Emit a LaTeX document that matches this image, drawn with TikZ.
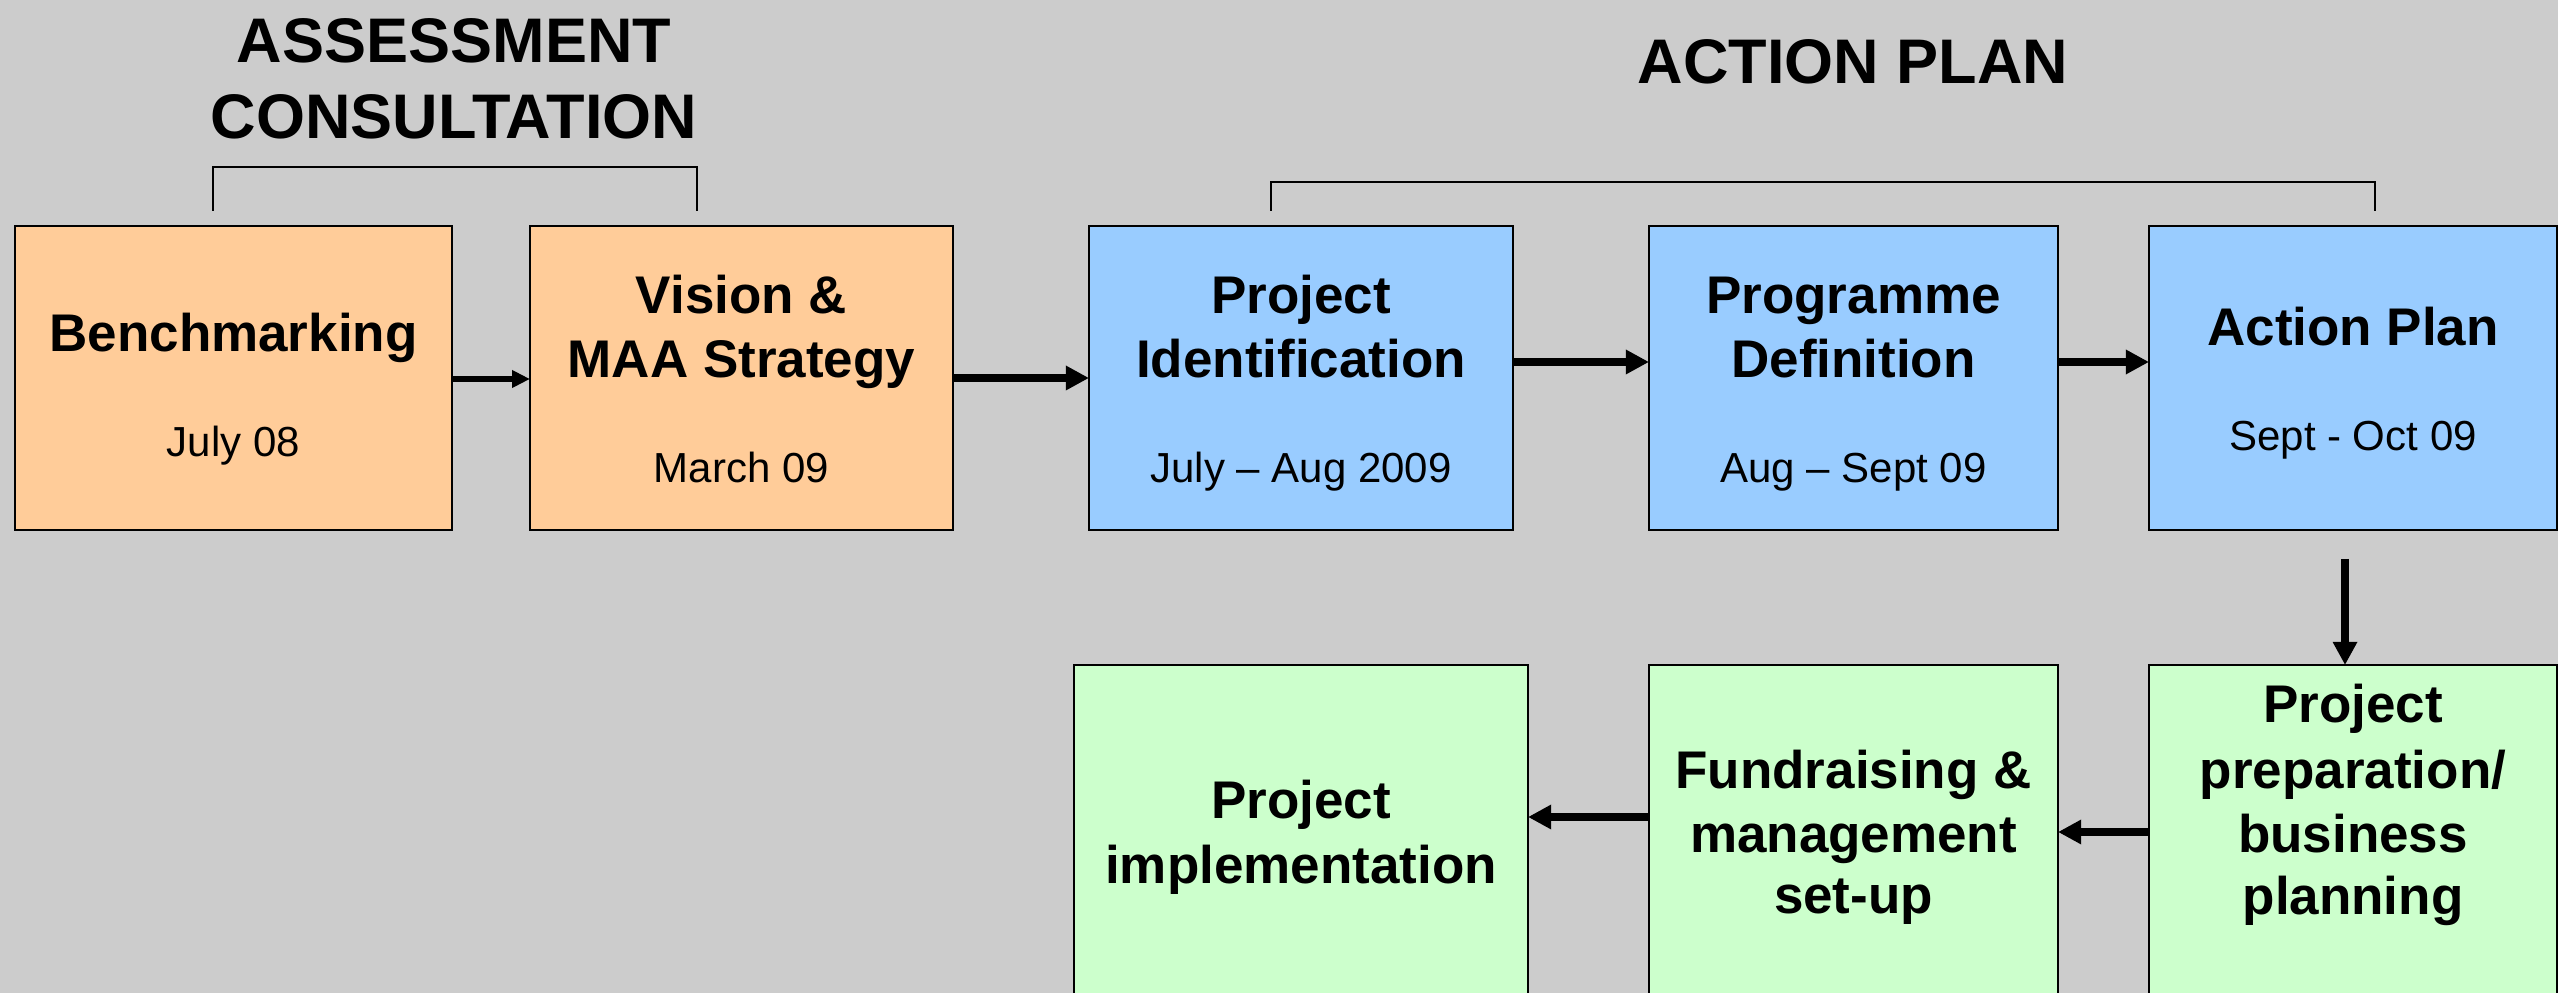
\documentclass[tikz,border=0pt]{standalone}
\usepackage{fontspec}
\setmainfont{Liberation Sans}
\usetikzlibrary{arrows.meta,calc}
\definecolor{bg}{HTML}{CCCCCC}
\definecolor{orangefill}{HTML}{FFCC99}
\definecolor{bluefill}{HTML}{99CCFF}
\definecolor{greenfill}{HTML}{CCFFCC}
\begin{document}
\begin{tikzpicture}[x=0.25pt,y=-0.25pt,
  box/.style={draw=black, line width=0.6pt, inner sep=0pt, outer sep=0pt, minimum height=76pt},
  lowbox/.style={box, minimum height=85pt},
  ttl/.style={font=\bfseries\fontsize{13.25}{16}\selectfont, inner sep=0pt, anchor=base},
  dt/.style={font=\fontsize{10.5}{12.6}\selectfont, inner sep=0pt, anchor=base},
  hdr/.style={font=\bfseries\fontsize{15.75}{19}\selectfont, inner sep=0pt, anchor=base},
  arr/.style={line width=2pt, -{Triangle[length=5.8pt,width=5.8pt]}},
  arrthin/.style={line width=1.5pt, -{Triangle[length=4.5pt,width=4.2pt]}},
  brk/.style={line width=0.5pt, draw=black}]
\useasboundingbox (0,0) rectangle (2558,993);
\clip (0,0) rectangle (2558,993);
\fill[bg] (0,0) rectangle (2558,993);

% headings
\node[hdr] (h1) at (454,62.5) {ASSESSMENT};
\node[hdr] (h2) at (454,138.6) {CONSULTATION};
\node[hdr] (h3) at (1853,84) {ACTION PLAN};

% brackets
\coordinate (a1) at (212.6,211);
\coordinate (a2) at (212.6,167);
\coordinate (a3) at (696.6,167);
\coordinate (a4) at (696.6,211);
\draw[brk] (a1) -- (a2) -- (a3) -- (a4);
\coordinate (b1) at (1271,211);
\coordinate (b2) at (1271,182);
\coordinate (b3) at (2375,182);
\coordinate (b4) at (2375,211);
\draw[brk] (b1) -- (b2) -- (b3) -- (b4);

% top row boxes
\node[box, fill=orangefill, minimum width=109.25pt] (bench) at (233.5,378) {};
\node[box, fill=orangefill, minimum width=105.75pt] (vision) at (741.5,378) {};
\node[box, fill=bluefill, minimum width=106pt] (projid) at (1301,378) {};
\node[box, fill=bluefill, minimum width=102.25pt] (progdef) at (1853.5,378) {};
\node[box, fill=bluefill, minimum width=102pt] (actplan) at (2353,378) {};

% bottom row boxes
\node[lowbox, fill=greenfill, minimum width=113.5pt] (impl) at (1301,835) {};
\node[lowbox, fill=greenfill, minimum width=102.25pt] (fund) at (1853.5,835) {};
\node[lowbox, fill=greenfill, minimum width=102pt] (prep) at (2353,835) {};

% texts top row
\node[ttl] (benchT) at (233.5,352) {Benchmarking};
\node[dt] (benchD) at (233.5,457) {July 08};
\node[ttl] (visionT1) at (741.5,314) {Vision \&};
\node[ttl] (visionT2) at (741.5,378) {MAA Strategy};
\node[dt] (visionD) at (741.5,483) {March 09};
\node[ttl] (projidT1) at (1301,314) {Project};
\node[ttl] (projidT2) at (1301,378) {Identification};
\node[dt] (projidD) at (1301,483) {July – Aug 2009};
\node[ttl] (progdefT1) at (1853.5,314) {Programme};
\node[ttl] (progdefT2) at (1853.5,378) {Definition};
\node[dt] (progdefD) at (1853.5,483) {Aug – Sept 09};
\node[ttl] (actplanT) at (2353,346) {Action Plan};
\node[dt] (actplanD) at (2353,451) {Sept - Oct 09};

% texts bottom row
\node[ttl] (implT1) at (1301,818) {Project};
\node[ttl] (implT2) at (1301,883) {implementation};
\node[ttl] (fundT1) at (1853.5,788) {Fundraising \&};
\node[ttl] (fundT2) at (1853.5,852) {management};
\node[ttl] (fundT3) at (1853.5,913) {set-up};
\node[ttl] (prepT1) at (2353,723) {Project};
\node[ttl] (prepT2) at (2353,788) {preparation/};
\node[ttl] (prepT3) at (2353,852) {business};
\node[ttl] (prepT4) at (2353,915) {planning};

% arrows
\draw[arrthin] ($(bench.east)+(0,1)$) -- ($(vision.west)+(0,1)$);
\draw[arr] (vision.east) -- (projid.west);
\draw[arr] ($(projid.east)+(0,-16)$) -- ($(progdef.west)+(0,-16)$);
\draw[arr] ($(progdef.east)+(0,-16)$) -- ($(actplan.west)+(0,-16)$);
\draw[arr] ($(actplan.south)+(-8,29)$) -- ($(prep.north)+(-8,0)$);
\draw[arr] ($(prep.west)+(0,-3)$) -- ($(fund.east)+(0,-3)$);
\draw[arr] ($(fund.west)+(0,-18)$) -- ($(impl.east)+(0,-18)$);
\end{tikzpicture}
\end{document}
